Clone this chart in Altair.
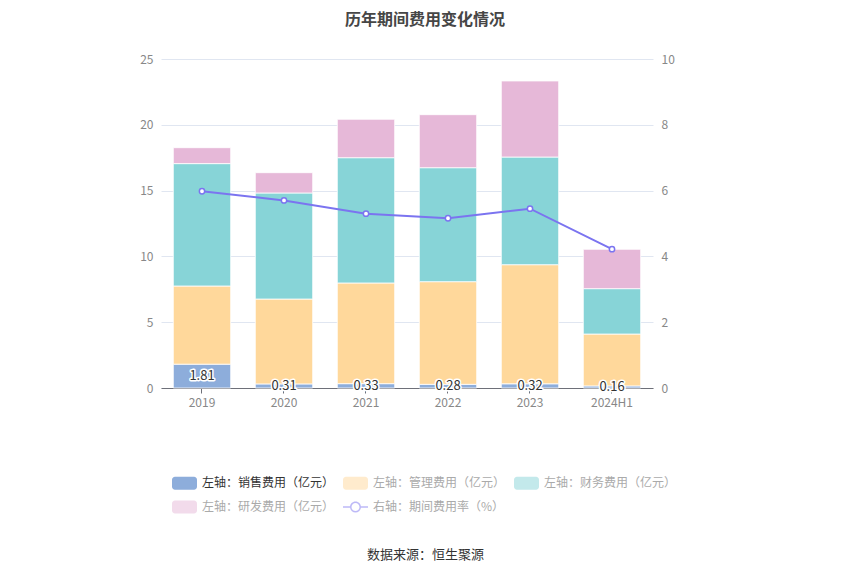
import altair as alt
import pandas as pd

years = ["2019", "2020", "2021", "2022", "2023", "2024H1"]
sales = [1.81, 0.31, 0.33, 0.28, 0.32, 0.16]
mgmt = [5.94, 6.45, 7.65, 7.80, 9.05, 3.94]
finance = [9.30, 8.06, 9.52, 8.66, 8.18, 3.45]
rnd = [1.21, 1.54, 2.92, 4.03, 5.78, 2.99]
rate = [5.98, 5.70, 5.30, 5.16, 5.45, 4.22]

series_names = [
    "左轴：销售费用（亿元）",
    "左轴：管理费用（亿元）",
    "左轴：财务费用（亿元）",
    "左轴：研发费用（亿元）",
    "右轴：期间费用率（%）",
]
colors = ["#8DADDB", "#FFD89B", "#87D4D7", "#E6B8D8", "#7B74F0"]
left_ticks = [0, 5, 10, 15, 20, 25]
right_ticks = [0, 2, 4, 6, 8, 10]

FONT = "Noto Sans CJK SC"
LINE_COLOR = colors[4]

rows = []
for i, yr in enumerate(years):
    for k, vals in enumerate([sales, mgmt, finance, rnd]):
        rows.append({"year": yr, "series": series_names[k], "value": vals[i], "order": k})
bar_df = pd.DataFrame(rows)
label_df = pd.DataFrame({"year": years, "sales": sales})
rate_df = pd.DataFrame({"year": years, "rate": rate})

rect_path = ("M-0.95,-0.65H0.95A0.3,0.3 0 0 1 1.25,-0.35V0.35A0.3,0.3 0 0 1 0.95,0.65"
             "H-0.95A0.3,0.3 0 0 1 -1.25,0.35V-0.35A0.3,0.3 0 0 1 -0.95,-0.65Z")
ring_path = ("M-1.25,-0.08H-0.5V0.08H-1.25Z M0.5,-0.08H1.25V0.08H0.5Z "
             "M-0.55,0A0.55,0.55 0 1 1 0.55,0A0.55,0.55 0 1 1 -0.55,0Z "
             "M-0.4,0A0.4,0.4 0 1 0 0.4,0A0.4,0.4 0 1 0 -0.4,0Z")

x_axis = alt.Axis(
    title="数据来源：恒生聚源", titleFont=FONT, titleFontSize=13, titleFontWeight="normal",
    titleColor="#333333", titleX=264, titleY=166, titleBaseline="middle", titleAlign="center",
    labelFont=FONT, labelFontSize=12, labelColor="#888888", labelPadding=4, labelAngle=0,
    domainColor="#6E7079", tickColor="#6E7079", tickSize=5, grid=False,
)
x_enc = alt.X("year:N", scale=alt.Scale(domain=years, paddingInner=0.3, paddingOuter=0.15), axis=x_axis)

yl_scale = alt.Scale(domain=[0, 25], nice=False)
yl_axis = alt.Axis(orient="left", values=left_ticks, title=None, grid=True, gridColor="#E0E6F1",
                   domain=False, ticks=False, labelPadding=8, labelFont=FONT, labelFontSize=12,
                   labelColor="#888888")
yr_scale = alt.Scale(domain=[0, 10], nice=False)
yr_axis = alt.Axis(orient="right", values=right_ticks, title=None, grid=False,
                   domain=False, ticks=False, labelPadding=8, labelFont=FONT, labelFontSize=12,
                   labelColor="#888888")

legend = alt.Legend(
    orient="none", legendX=13.5, legendY=414, columns=3, direction="horizontal", title=None,
    symbolSize=400, symbolStrokeWidth=0, padding=0, gridAlign="all",
    labelFont=FONT, labelFontSize=12, labelOffset=7.5, columnPadding=8, rowPadding=7,
    labelColor={"expr": "datum.index == 0 ? '#333333' : '#AAAAAA'"},
    symbolOpacity={"expr": "datum.index == 0 ? 1 : 0.5"},
)

color_scale = alt.Scale(domain=series_names, range=colors)
shape_scale = alt.Scale(domain=series_names, range=[rect_path] * 4 + [ring_path])

legend_pts = alt.Chart(bar_df).mark_point(filled=True, opacity=0).encode(
    x=x_enc,
    y=alt.Y("value:Q", scale=yl_scale, axis=yl_axis),
    color=alt.Color("series:N", scale=color_scale, legend=legend),
    shape=alt.Shape("series:N", scale=shape_scale, legend=legend),
)

bars = alt.Chart(bar_df).mark_bar(stroke="white", strokeWidth=0.8).encode(
    x=x_enc,
    y=alt.Y("value:Q", stack="zero", scale=yl_scale, axis=yl_axis),
    color=alt.Color("series:N", scale=color_scale, legend=None),
    order=alt.Order("order:Q"),
)

label_base = alt.Chart(label_df).transform_calculate(mid="datum.sales / 2")
halo = label_base.mark_text(font=FONT, fontSize=13, color="white", stroke="white",
                            strokeWidth=3, strokeJoin="round", baseline="middle").encode(
    x=x_enc,
    y=alt.Y("mid:Q", scale=yl_scale, axis=yl_axis),
    text=alt.Text("sales:Q", format=".2f"),
)
fg = label_base.mark_text(font=FONT, fontSize=13, color="#333333", baseline="middle").encode(
    x=x_enc,
    y=alt.Y("mid:Q", scale=yl_scale, axis=yl_axis),
    text=alt.Text("sales:Q", format=".2f"),
)

line = alt.Chart(rate_df).mark_line(color=LINE_COLOR, strokeWidth=2).encode(
    x=x_enc,
    y=alt.Y("rate:Q", scale=yr_scale, axis=yr_axis),
)
pts = alt.Chart(rate_df).mark_point(filled=True, fill="white", stroke=LINE_COLOR, strokeWidth=1.5,
                                    size=28, opacity=1).encode(
    x=x_enc,
    y=alt.Y("rate:Q", scale=yr_scale, axis=yr_axis),
)

left = alt.layer(legend_pts, bars, halo, fg)
right = alt.layer(line, pts)

chart = alt.layer(left, right).resolve_scale(y="independent").properties(
    width=492, height=329,
    title=alt.Title("历年期间费用变化情况", font=FONT, fontSize=16, fontWeight="bold",
                    color="#464646", anchor="middle", dx=18, offset=25),
    autosize=alt.AutoSizeParams(type="none"),
    padding={"left": 153, "top": 51, "right": 189, "bottom": 178},
).configure_view(stroke=None)

chart.save("out.html", embed_options={"renderer": "svg", "actions": False})
